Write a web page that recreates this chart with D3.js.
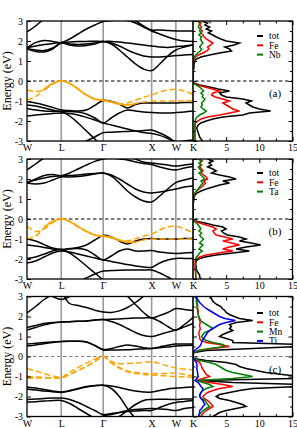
<!DOCTYPE html>
<html><head><meta charset="utf-8">
<script src="https://cdn.jsdelivr.net/npm/d3@7"></script>
<style>
body{margin:0;background:#fff}
text{font-family:"Liberation Serif","Times New Roman",serif;fill:#000}
</style>
</head><body>
<svg id="chart" width="297" height="428"></svg>
<script>
// ---------- shared axes data ----------
const kPath = [0, 0.177, 0.354, 0.530, 0.707, 0.880, 1.053, 1.227, 1.400, 1.573,
  1.740, 1.906, 2.073, 2.240, 2.406, 2.573, 2.740, 2.906, 3.073, 3.250, 3.427];
const kTicks = [0, 0.707, 1.573, 2.573, 3.073, 3.427];
const kLabels = ["W", "L", "Γ", "X", "W", "K"];
const energyTicks = [-3, -2, -1, 0, 1, 2, 3];
const energyMinor = [-2.5, -1.5, -0.5, 0.5, 1.5, 2.5];
const dosTicks = [5, 10, 15];
const dosMinor = [2.5, 7.5, 12.5];
const dosEnergy = [-3.0,-2.9,-2.8,-2.7,-2.6,-2.5,-2.4,-2.3,-2.2,-2.1,-2.0,-1.9,-1.8,-1.7,-1.6,-1.5,-1.4,-1.3,-1.2,-1.1,
  -1.0,-0.9,-0.8,-0.7,-0.6,-0.5,-0.4,-0.3,-0.2,-0.1,0.0,0.1,0.2,0.3,0.4,0.5,0.6,0.7,0.8,0.9,
  1.0,1.1,1.2,1.3,1.4,1.5,1.6,1.7,1.8,1.9,2.0,2.1,2.2,2.3,2.4,2.5,2.6,2.7,2.8,2.9,3.0];

// ---------- panel (a) ----------
const bandsA = [
  [1.62,1.55,1.52,1.65,1.90, 1.85,1.83,1.85,1.90,1.97, 1.85,1.55,1.20,0.85,0.60,0.52, 0.85,1.25,1.55, 1.70,1.80],
  [1.67,1.75,1.82,1.88,1.92, 1.95,1.97,1.98,1.99,1.98, 1.90,1.75,1.55,1.38,1.25,1.20, 1.20,1.23,1.27, 1.30,1.33],
  [1.65,1.92,2.02,1.98,1.92, 2.10,2.35,2.60,2.80,2.97, 3.02,3.05,3.02,2.90,2.70,2.50, 2.35,2.20,2.08, 2.00,1.97],
  [2.45,2.75,3.10,3.30,3.40, 3.40,3.35,3.30,3.20,3.10, 3.10,3.15,3.10,3.00,2.75,2.55, 2.55,2.52,2.50, 2.50,2.50],
  [1.60,1.48,1.45,1.60,1.90, 1.80,1.75,1.78,1.85,1.97, 1.98,1.95,1.90,1.85,1.80,1.75, 1.70,1.68,1.72, 1.75,1.80],
  [-1.03,-1.10,-1.20,-1.32,-1.45, -1.48,-1.50,-1.45,-1.22,-0.97, -1.02,-1.15,-1.35,-1.18,-1.10,-1.10, -1.10,-1.10,-1.10, -1.08,-1.08],
  [-1.20,-1.25,-1.35,-1.45,-1.53, -1.52,-1.55,-1.65,-1.85,-2.10, -1.85,-1.60,-1.45,-1.50,-1.55,-1.58, -1.60,-1.60,-1.58, -1.55,-1.50],
  [-1.37,-1.45,-1.50,-1.52,-1.53, -1.75,-2.10,-2.50,-2.90,-3.30, null,null,null,null,null,null, null,null,null, null,null],
  [-1.75,-1.70,-1.66,-1.62,-1.60, -1.62,-1.70,-1.82,-1.95,-2.10, -2.20,-2.30,-2.40,-2.50,-2.58,-2.62, -2.72,-2.88,-3.05, -3.00,-2.95],
  [null,null,null,null,null, -3.40,-3.25,-3.00,-2.80,-2.58, -2.56,-2.54,-2.52,-2.50,-2.48,-2.45, -2.60,-2.80,-3.05, -3.10,-3.10]
];
const orangeSolidA = [null,null,-0.40,-0.12,0.00, -0.12,-0.40,-0.70,-0.90,-0.97, -1.05,-1.15,-1.20,-1.12,null,null, null,null,null, null,null];
const orangeDashA1 = [-0.45,-0.52,-0.45,-0.15,0.00, -0.12,-0.40,-0.70,-0.90,-0.97, -1.05,-1.15,-1.10,-0.95,-0.82,-0.70, -0.55,-0.45,-0.42, -0.50,-0.67];
const orangeDashA2 = [-0.95,-0.78,-0.42,-0.12,0.00, -0.12,-0.40,-0.70,-0.90,-0.97, -1.05,-1.15,-1.20,-1.12,-1.05,-1.00, -1.00,-1.00,-1.00, -0.99,-0.98];
const dosTotA = [1.5,1.2,1.0,0.9,0.8,0.7,0.6,0.6,0.8,1.2,2.0,3.0,4.5,7.5,8.5,11.7,10.0,9.0,8.5,8.0,
  8.8,7.5,5.0,4.3,4.0,5.5,3.8,2.5,1.0,0.1,0,0,0,0,0,0.05,0.1,0.15,0.15,0.2,
  0.3,0.5,1.2,2.5,4.0,5.8,5.5,4.8,6.2,7.0,5.0,4.2,3.5,3.0,2.3,2.8,2.0,2.5,1.8,2.2,1.3];
const dosFeA = [0.4,0.35,0.3,0.3,0.3,0.3,0.3,0.3,0.3,0.4,0.7,1.2,2.2,4.0,5.5,7.0,6.0,5.5,5.0,4.5,
  5.5,4.5,3.3,2.8,3.0,4.0,2.9,1.8,0.7,0.05,0,0,0,0,0,0.02,0.05,0.05,0.05,0.08,
  0.1,0.2,0.4,0.8,1.5,2.1,2.4,2.2,2.7,3.0,2.5,2.0,1.7,1.5,1.2,1.4,1.1,1.3,1.0,1.2,0.8];
const dosNbA = [0.3,0.3,0.3,0.3,0.3,0.3,0.3,0.3,0.3,0.3,0.3,0.4,0.6,1.0,1.6,2.0,1.5,1.2,1.4,1.3,
  1.6,1.8,1.4,1.5,1.2,1.6,1.3,1.0,0.5,0.05,0,0,0,0,0,0.03,0.05,0.05,0.05,0.05,
  0.05,0.1,0.2,0.4,0.7,1.1,1.3,1.0,1.2,1.5,1.3,1.1,1.3,0.9,1.2,1.0,1.1,0.8,0.9,1.0,0.6];

// ---------- panel (b) ----------
const bandsB = [
  [1.80,1.75,1.80,1.95,2.10, 2.10,2.12,2.18,2.25,2.30, 2.15,1.80,1.40,1.10,0.90,0.85, 1.15,1.50,1.82, 1.95,2.05],
  [1.85,1.95,2.05,2.12,2.15, 2.17,2.20,2.25,2.28,2.30, 2.20,2.00,1.75,1.50,1.35,1.30, 1.35,1.42,1.50, 1.60,1.65],
  [1.78,2.00,2.18,2.22,2.17, 2.30,2.50,2.70,2.88,3.00, 3.05,3.00,2.95,2.85,2.78,2.72, 2.60,2.50,2.45, 2.55,2.62],
  [2.45,2.75,3.05,3.20,3.30, 3.30,3.30,3.30,3.30,3.30, 3.30,3.25,3.15,3.00,2.85,2.80, 2.75,2.70,2.65, 2.70,2.75],
  [-1.00,-1.10,-1.28,-1.45,-1.52, -1.48,-1.42,-1.30,-1.05,-0.82, -0.90,-1.10,-1.25,-1.10,-1.00,-0.98, -1.00,-1.00,-1.00, -0.98,-0.97],
  [-1.30,-1.35,-1.42,-1.50,-1.53, -1.50,-1.48,-1.55,-1.80,-2.05, -1.85,-1.60,-1.50,-1.60,-1.60,-1.58, -1.65,-1.70,-1.72, -1.70,-1.68],
  [-1.97,-1.90,-1.75,-1.60,-1.53, -1.70,-2.00,-2.35,-2.70,-3.05, -3.40,null,null,null,null,null, null,null,null, null,null],
  [-2.20,-2.10,-1.90,-1.70,-1.60, -1.65,-1.75,-1.85,-1.95,-2.05, -2.12,-2.20,-2.28,-2.35,-2.40,-2.42, -2.20,-2.05,-1.97, -1.97,-1.97],
  [null,null,null,null,null, -3.40,-3.15,-2.95,-2.75,-2.60, -2.58,-2.56,-2.55,-2.55,-2.55,-2.55, -2.70,-2.90,-3.10, -3.10,-3.10]
];
const orangeSolidB = [null,null,-0.40,-0.12,0.00, -0.12,-0.38,-0.62,-0.80,-0.85, -0.92,-1.05,-1.15,-1.18,null,null, null,null,null, null,null];
const orangeDashB1 = [-0.35,-0.62,-0.50,-0.18,0.00, -0.12,-0.38,-0.62,-0.80,-0.85, -0.95,-1.08,-1.10,-0.98,-0.85,-0.75, -0.55,-0.40,-0.35, -0.50,-0.70];
const orangeDashB2 = [-1.00,-0.85,-0.45,-0.12,0.00, -0.12,-0.38,-0.62,-0.80,-0.85, -0.92,-1.05,-1.15,-1.15,-1.05,-1.00, -1.00,-1.00,-1.00, -1.00,-1.00];
const dosTotB = [1.2,1.0,1.0,0.8,0.6,0.5,0.5,0.4,0.4,0.5,0.8,1.8,3.5,6.0,8.5,6.5,8.0,10.2,8.8,7.0,
  8.0,7.0,5.2,4.6,4.3,5.0,4.5,3.0,1.8,0.3,0,0,0,0,0,0,0,0,0.05,0.1,
  0.15,0.2,0.3,0.6,1.2,2.0,3.0,4.0,5.5,4.5,6.5,5.5,4.0,2.8,3.5,3.0,2.2,2.8,2.4,3.0,2.2];
const dosFeB = [0.5,0.45,0.4,0.4,0.35,0.3,0.3,0.3,0.3,0.3,0.5,1.0,2.0,3.8,6.0,4.5,5.5,7.0,5.8,4.5,
  6.0,4.8,3.5,3.2,3.0,3.5,3.0,2.0,1.0,0.1,0,0,0,0,0,0,0,0,0.02,0.05,
  0.08,0.1,0.15,0.3,0.6,0.9,1.3,1.6,1.9,1.6,2.2,2.0,1.6,1.2,1.5,1.3,1.0,1.3,1.0,1.4,0.9];
const dosTaB = [0.4,0.4,0.4,0.4,0.4,0.4,0.4,0.4,0.4,0.4,0.4,0.5,0.8,1.0,1.4,0.9,1.2,1.5,1.0,1.3,
  1.6,1.2,1.0,1.3,0.9,1.2,1.0,0.8,0.5,0.1,0,0,0,0,0,0,0,0,0.03,0.05,
  0.08,0.1,0.1,0.3,0.5,0.8,1.0,1.2,1.5,1.2,1.8,1.5,1.2,0.9,1.3,1.0,0.8,1.2,0.9,1.3,0.8];

// ---------- panel (c) ----------
const bandsC = [
  [0.62,0.66,0.70,0.73,0.75, 0.76,0.76,0.72,0.55,0.33, 0.33,0.33,0.34,0.36,0.38,0.40, 0.48,0.56,0.62, 0.62,0.62],
  [0.52,0.58,0.64,0.70,0.75, 0.76,0.76,0.72,0.55,0.35, 0.40,0.50,0.58,0.52,0.44,0.40, 0.44,0.48,0.52, 0.55,0.56],
  [1.45,1.55,1.65,1.70,1.72, 1.74,1.76,1.78,1.82,1.85, 1.86,1.88,1.90,1.92,1.93,1.93, 1.75,1.50,1.32, 1.60,1.95],
  [1.32,1.45,1.58,1.68,1.72, 1.74,1.76,1.78,1.82,1.85, 1.75,1.60,1.40,1.20,1.05,1.00, 1.10,1.22,1.32, 1.48,1.65],
  [2.18,2.50,2.85,3.10,3.30, null,null,null,null,null, null,null,null,null,null,null, null,null,null, null,null],
  [null,null,3.30,3.00,2.85, 3.00,3.25,null,null,null, null,null,null,null,null,null, null,null,null, null,null],
  [null,null,null,null,3.30, 2.65,2.55,2.45,2.32,2.22, 2.20,2.28,2.45,2.70,3.00,3.30, null,null,null, null,null],
  [null,null,null,null,null, null,null,null,null,3.30, 3.30,3.20,3.00,2.60,2.20,1.93, 2.05,2.20,2.40, 2.35,2.30],
  [-1.52,-1.58,-1.65,-1.72,-1.77, -1.70,-1.60,-1.50,-1.45,-1.44, -1.47,-1.55,-1.65,-1.73,-1.77,-1.78, -1.70,-1.62,-1.58, -1.55,-1.52],
  [-1.62,-1.68,-1.72,-1.76,-1.80, -1.73,-1.62,-1.52,-1.46,-1.44, -1.60,-2.00,-2.60,-3.10,-3.40,null, null,null,null, null,null],
  [-2.15,-2.12,-2.10,-2.08,-2.08, -2.15,-2.30,-2.50,-2.70,-2.90, -2.85,-2.80,-2.75,-2.72,-2.70,-2.70, -2.55,-2.40,-2.30, -2.25,-2.20],
  [-2.28,-2.26,-2.23,-2.20,-2.20, -2.35,-2.60,-2.85,-3.10,-3.30, -3.20,-3.00,-2.70,-2.40,-2.20,-2.15, -2.14,-2.14,-2.15, -2.13,-2.12],
  [null,null,null,null,null, null,-3.30,-3.20,-3.10,-2.97, -2.90,-2.80,-2.70,-2.65,-2.62,-2.60, -2.62,-2.65,-2.70, -2.60,-2.55]
];
const orangeDashC1 = [-0.61,-0.72,-0.85,-0.97,-1.04, -0.78,-0.55,-0.33,-0.14,0.00, -0.25,-0.36,-0.35,-0.33,-0.29,-0.26, -0.35,-0.48,-0.58, -0.63,-0.66];
const orangeDashC2 = [-0.99,-1.02,-1.05,-1.07,-1.07, -0.90,-0.70,-0.50,-0.25,0.00, -0.30,-0.55,-0.72,-0.80,-0.84,-0.86, -0.85,-0.84,-0.83, -0.90,-0.96];
const orangeDashC3 = [-1.09,-1.08,-1.08,-1.08,-1.08, -0.90,-0.70,-0.50,-0.25,0.00, -0.32,-0.58,-0.76,-0.85,-0.90,-0.92, -0.95,-0.98,-1.00, -1.02,-1.04];
const dosTotC = [3.0,3.5,4.0,5.0,6.5,8.0,7.5,6.5,5.5,4.0,3.5,4.0,5.5,7.0,9.0,16,16,6.0,1.0,16,
  16,13.5,11,9.5,8.0,7.0,6.5,5.0,2.0,0.1,0,0,0.2,2.0,9.0,16,16,6.0,6.0,5.0,
  4.0,4.5,5.2,6.0,5.5,5.8,5.5,6.5,9.0,7.0,6.2,5.5,5.0,4.8,4.4,4.2,3.6,3.2,2.9,2.8,2.6];
const dosFeC = [1.2,1.4,1.6,2.0,2.5,3.0,2.8,2.5,2.2,1.7,1.5,1.8,2.2,3.0,4.0,6.0,4.5,2.5,0.4,1.5,
  2.5,2.0,1.8,1.6,1.4,1.3,1.2,1.0,0.5,0.05,0,0,0.1,0.8,3.0,5.5,4.0,2.0,1.2,1.0,
  1.0,0.9,0.9,1.0,1.1,1.0,1.0,1.1,1.0,0.9,0.9,0.8,0.8,0.8,0.7,0.7,0.7,0.6,0.6,0.6,0.6];
const dosMnC = [0.9,1.0,1.2,1.5,2.0,2.5,2.2,2.0,1.8,1.3,1.0,1.0,1.2,1.5,2.0,3.0,2.5,1.5,0.5,6.0,
  9.0,7.5,6.0,5.0,4.5,4.0,3.5,2.5,1.0,0.05,0,0,0.1,0.8,2.5,4.8,4.5,3.0,2.0,1.5,
  1.3,1.5,1.8,2.5,3.0,2.5,2.0,1.5,1.2,1.0,0.8,0.8,0.7,0.7,0.6,0.6,0.6,0.5,0.5,0.5,0.5];
const dosTiC = [0.8,0.9,1.0,1.0,1.3,1.5,1.8,1.6,1.5,1.2,1.0,1.1,1.2,1.4,1.5,1.2,1.0,0.8,0.3,0.6,
  0.8,0.7,0.7,0.6,0.6,0.6,0.6,0.5,0.3,0.02,0,0,0.05,0.2,0.6,1.0,1.2,1.3,1.4,1.6,
  1.8,2.0,2.2,2.5,3.0,3.5,4.0,5.0,6.4,4.8,4.0,3.5,3.0,2.5,2.0,1.6,1.3,1.0,0.8,0.6,0.4];

// ---------- layout ----------
const BAND_LEFT = 27, SPLIT = 193, RIGHT = 292.5, PH = 120;
const panels = [
  {top: 21, bands: bandsA, solid: [orangeSolidA], dashed: [orangeDashA1, orangeDashA2],
   dos: [{name: "tot", v: dosTotA, c: "#000000"}, {name: "Fe", v: dosFeA, c: "#ff0000"}, {name: "Nb", v: dosNbA, c: "#008000"}],
   label: "(a)", zero: "#000000", legendTop: 36},
  {top: 159, bands: bandsB, solid: [orangeSolidB], dashed: [orangeDashB1, orangeDashB2],
   dos: [{name: "tot", v: dosTotB, c: "#000000"}, {name: "Fe", v: dosFeB, c: "#ff0000"}, {name: "Ta", v: dosTaB, c: "#008000"}],
   label: "(b)", zero: "#000000", legendTop: 173},
  {top: 296.5, bands: bandsC, solid: [], dashed: [orangeDashC1, orangeDashC2, orangeDashC3],
   dos: [{name: "tot", v: dosTotC, c: "#000000"}, {name: "Fe", v: dosFeC, c: "#ff0000"}, {name: "Mn", v: dosMnC, c: "#008000"}, {name: "Ti", v: dosTiC, c: "#0000ff"}],
   label: "(c)", zero: "#808080", legendTop: 313}
];

const svg = d3.select("#chart");
const defs = svg.append("defs");
const xK = d3.scaleLinear().domain([0, 3.427]).range([BAND_LEFT, SPLIT]);
const xD = d3.scaleLinear().domain([0, 15]).range([SPLIT, RIGHT]);

panels.forEach((p, pi) => {
  const y = d3.scaleLinear().domain([-3, 3]).range([p.top + PH, p.top]);
  const g = svg.append("g");
  defs.append("clipPath").attr("id", "cb" + pi).append("rect")
    .attr("x", BAND_LEFT).attr("y", p.top).attr("width", SPLIT - BAND_LEFT).attr("height", PH);
  defs.append("clipPath").attr("id", "cd" + pi).append("rect")
    .attr("x", SPLIT).attr("y", p.top).attr("width", RIGHT - SPLIT).attr("height", PH);

  // high-symmetry vertical lines
  g.selectAll(".kv").data(kTicks.slice(1, 5)).join("line")
    .attr("x1", d => xK(d)).attr("x2", d => xK(d)).attr("y1", p.top).attr("y2", p.top + PH)
    .attr("stroke", "#9a9a9a").attr("stroke-width", 1.6);

  // zero line
  g.append("line").attr("x1", BAND_LEFT).attr("x2", RIGHT).attr("y1", y(0)).attr("y2", y(0))
    .attr("stroke", p.zero).attr("stroke-width", 1.2).attr("stroke-dasharray", "3.5,2.5");

  const bandLine = d3.line().defined(d => d != null)
    .x((d, i) => xK(kPath[i])).y(d => y(d)).curve(d3.curveCatmullRom.alpha(0.5));
  const gb = g.append("g").attr("clip-path", `url(#cb${pi})`);
  gb.selectAll(".band").data(p.bands).join("path")
    .attr("d", bandLine).attr("fill", "none").attr("stroke", "#000").attr("stroke-width", 1.5);
  gb.selectAll(".od").data(p.dashed).join("path")
    .attr("d", bandLine).attr("fill", "none").attr("stroke", "#ffa500").attr("stroke-width", 1.5)
    .attr("stroke-dasharray", "6,3");
  gb.selectAll(".os").data(p.solid).join("path")
    .attr("d", bandLine).attr("fill", "none").attr("stroke", "#ffa500").attr("stroke-width", 1.6);

  // DOS
  const dosLine = d3.line().x(d => xD(d)).y((d, i) => y(dosEnergy[i]));
  const gd = g.append("g").attr("clip-path", `url(#cd${pi})`);
  gd.selectAll(".dos").data(p.dos).join("path")
    .attr("d", d => dosLine(d.v)).attr("fill", "none").attr("stroke", d => d.c).attr("stroke-width", 1.5);

  // frames
  g.append("rect").attr("x", BAND_LEFT).attr("y", p.top).attr("width", RIGHT - BAND_LEFT).attr("height", PH)
    .attr("fill", "none").attr("stroke", "#000").attr("stroke-width", 1.3);
  g.append("line").attr("x1", SPLIT).attr("x2", SPLIT).attr("y1", p.top).attr("y2", p.top + PH)
    .attr("stroke", "#000").attr("stroke-width", 1.6);

  // left energy axis
  const ax = g.append("g").attr("transform", `translate(${BAND_LEFT},0)`)
    .call(d3.axisLeft(y).tickValues(energyTicks).tickSizeInner(-4).tickSizeOuter(0).tickPadding(4)
      .tickFormat(d => String(d)));
  ax.select(".domain").remove();
  ax.selectAll("text").attr("font-size", 10).attr("font-family", "Liberation Serif");
  ax.selectAll("line").attr("stroke-width", 1);

  // DOS side energy ticks
  [[SPLIT, d3.axisRight], [RIGHT, d3.axisLeft]].forEach(([xx, mk]) => {
    const a1 = g.append("g").attr("transform", `translate(${xx},0)`)
      .call(mk(y).tickValues(energyTicks).tickSizeInner(4).tickSizeOuter(0).tickFormat(""));
    a1.select(".domain").remove();
    const a2 = g.append("g").attr("transform", `translate(${xx},0)`)
      .call(mk(y).tickValues(energyMinor).tickSizeInner(2.5).tickSizeOuter(0).tickFormat(""));
    a2.select(".domain").remove();
  });

  // DOS horizontal axis: bottom with labels, top without
  const db = g.append("g").attr("transform", `translate(0,${p.top + PH})`)
    .call(d3.axisBottom(xD).tickValues(dosTicks).tickSizeInner(-4).tickSizeOuter(0).tickPadding(3));
  db.select(".domain").remove();
  db.selectAll("text").attr("font-size", 10).attr("font-family", "Liberation Serif");
  const dbm = g.append("g").attr("transform", `translate(0,${p.top + PH})`)
    .call(d3.axisBottom(xD).tickValues(dosMinor).tickSizeInner(-2.5).tickSizeOuter(0).tickFormat(""));
  dbm.select(".domain").remove();
  const dt = g.append("g").attr("transform", `translate(0,${p.top})`)
    .call(d3.axisTop(xD).tickValues(dosTicks).tickSizeInner(-4).tickSizeOuter(0).tickFormat(""));
  dt.select(".domain").remove();
  const dtm = g.append("g").attr("transform", `translate(0,${p.top})`)
    .call(d3.axisTop(xD).tickValues(dosMinor).tickSizeInner(-2.5).tickSizeOuter(0).tickFormat(""));
  dtm.select(".domain").remove();

  // k-path labels
  const kb = g.append("g").attr("transform", `translate(0,${p.top + PH})`)
    .call(d3.axisBottom(xK).tickValues(kTicks).tickSize(0).tickPadding(3).tickFormat((d, i) => kLabels[i]));
  kb.select(".domain").remove();
  kb.selectAll("text").attr("font-size", 10).attr("font-family", "Liberation Serif");

  // y label
  g.append("text").attr("transform", `translate(11,${p.top + PH / 2}) rotate(-90)`)
    .attr("text-anchor", "middle").attr("font-size", 12).text("Energy (eV)");

  // legend
  const lg = g.selectAll(".lg").data(p.dos).join("g")
    .attr("transform", (d, i) => `translate(0,${p.legendTop + i * 9.3})`);
  lg.append("line").attr("x1", 257).attr("x2", 263).attr("stroke", d => d.c).attr("stroke-width", 2);
  lg.append("text").attr("x", 269).attr("y", 3.3).attr("font-size", 9.5).text(d => d.name);

  // panel label
  g.append("text").attr("x", 275).attr("y", p.top + 76).attr("text-anchor", "middle")
    .attr("font-size", 11).text(p.label);
});
</script>
</body></html>
